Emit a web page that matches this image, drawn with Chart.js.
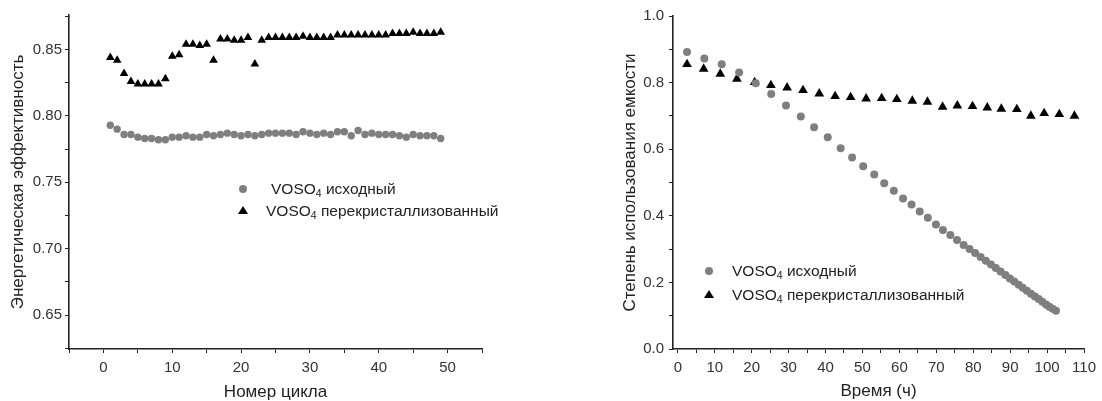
<!DOCTYPE html>
<html>
<head>
<meta charset="utf-8">
<script src="https://cdn.jsdelivr.net/npm/chart.js@4.4.1/dist/chart.umd.min.js"></script>
<style>
    body { margin: 0; background: #fff; font-family: "Liberation Sans", Arial, sans-serif; }
    #wrap { position: relative; width: 1102px; height: 401px; overflow: hidden; }
    .box { position: absolute; top: 0; height: 401px; }
    .legend { position: absolute; font-size: 15.5px; color: #222; white-space: nowrap; line-height: 20px; }
    .legend sub { font-size: 10.5px; vertical-align: -3px; line-height: 0; }
    .dot { position: absolute; width: 8px; height: 8px; border-radius: 50%; background: #7f7f7f; }
    .tri { position: absolute; width: 0; height: 0; border-left: 5px solid transparent; border-right: 5px solid transparent; border-bottom: 8px solid #000; }
</style>
</head>
<body>
<div id="wrap">
    <div class="box" style="left:0;width:520px"><canvas id="effChart"></canvas></div>
    <div class="box" style="left:600px;width:502px"><canvas id="capChart"></canvas></div>

    <!-- легенда левого графика -->
    <div class="dot" style="left:239px;top:185px"></div>
    <div class="legend" style="left:271px;top:179px">VOSO<sub>4</sub> исходный</div>
    <div class="tri" style="left:238px;top:206px"></div>
    <div class="legend" style="left:266px;top:201px">VOSO<sub>4</sub> перекристаллизованный</div>

    <!-- легенда правого графика -->
    <div class="dot" style="left:705px;top:267px"></div>
    <div class="legend" style="left:732px;top:261px">VOSO<sub>4</sub> исходный</div>
    <div class="tri" style="left:704px;top:290px"></div>
    <div class="legend" style="left:732px;top:285px">VOSO<sub>4</sub> перекристаллизованный</div>
</div>

<script>
// Левый график: энергетическая эффективность по циклам
const cycles = [1, 2, 3, 4, 5, 6, 7, 8, 9, 10, 11, 12, 13, 14, 15, 16, 17, 18, 19, 20,
    21, 22, 23, 24, 25, 26, 27, 28, 29, 30, 31, 32, 33, 34, 35, 36, 37, 38, 39, 40,
    41, 42, 43, 44, 45, 46, 47, 48, 49];
const effOriginal = [0.793, 0.790, 0.786, 0.786, 0.784, 0.783, 0.783, 0.782, 0.782, 0.784,
    0.784, 0.785, 0.784, 0.784, 0.786, 0.785, 0.786, 0.787, 0.786, 0.785,
    0.786, 0.785, 0.786, 0.787, 0.787, 0.787, 0.787, 0.786, 0.788, 0.787,
    0.786, 0.787, 0.786, 0.788, 0.788, 0.785, 0.789, 0.786, 0.787, 0.786,
    0.786, 0.786, 0.785, 0.784, 0.786, 0.785, 0.785, 0.785, 0.783];
const effRecryst = [0.844, 0.842, 0.832, 0.826, 0.824, 0.824, 0.824, 0.824, 0.828, 0.845,
    0.846, 0.854, 0.854, 0.853, 0.854, 0.842, 0.858, 0.858, 0.857, 0.857,
    0.859, 0.839, 0.857, 0.859, 0.859, 0.859, 0.859, 0.859, 0.860, 0.859,
    0.859, 0.859, 0.859, 0.861, 0.861, 0.861, 0.861, 0.861, 0.861, 0.861,
    0.861, 0.862, 0.862, 0.862, 0.863, 0.862, 0.862, 0.862, 0.863];

// Правый график: степень использования емкости во времени
const timeOriginal = [2.5, 7.2, 11.9, 16.6, 21.1, 25.3, 29.3, 33.3, 36.9, 40.6,
    44.1, 47.2, 50.2, 53.2, 55.9, 58.5, 61.0, 63.3, 65.5, 67.7,
    69.9, 71.8, 73.8, 75.6, 77.4, 79.0, 80.5, 82.0, 83.4, 84.8,
    86.1, 87.4, 88.7, 89.9, 91.1, 92.3, 93.4, 94.5, 95.6, 96.7,
    97.7, 98.7, 99.7, 100.6, 101.5, 102.4];
const capOriginal = [0.892, 0.872, 0.855, 0.830, 0.798, 0.766, 0.731, 0.698, 0.666, 0.636,
    0.603, 0.575, 0.549, 0.524, 0.498, 0.475, 0.452, 0.434, 0.413, 0.394,
    0.374, 0.357, 0.342, 0.327, 0.312, 0.300, 0.288, 0.276, 0.265, 0.254,
    0.243, 0.233, 0.222, 0.212, 0.203, 0.193, 0.184, 0.175, 0.166, 0.158,
    0.150, 0.142, 0.134, 0.127, 0.121, 0.115];
const timeRecryst = [2.5, 7.0, 11.5, 16.0, 20.8, 25.2, 29.6, 33.9, 38.3, 42.6,
    46.8, 51.0, 55.2, 59.3, 63.5, 67.6, 71.7, 75.7, 79.8, 83.8,
    87.6, 91.8, 95.6, 99.2, 103.3, 107.4];
const capRecryst = [0.855, 0.841, 0.826, 0.811, 0.801, 0.792, 0.785, 0.777, 0.767, 0.759,
    0.756, 0.752, 0.753, 0.750, 0.745, 0.742, 0.727, 0.731, 0.729, 0.725,
    0.721, 0.720, 0.700, 0.708, 0.705, 0.700];

const grayColor = '#7f7f7f';
const axisColor = '#222';
const textColor = '#333';

function toPoints(xs, ys) {
    return xs.map((x, i) => ({ x: x, y: ys[i] }));
}

// Общие настройки осей: только левая и нижняя ось, засечки наружу
function axisOptions(extra) {
    return Object.assign({
        type: 'linear',
        border: { display: true, color: axisColor, width: 1.6 },
        grid: { drawOnChartArea: false, drawTicks: true, tickLength: 4, color: axisColor, lineWidth: 1 },
        ticks: { color: textColor, font: { family: 'Liberation Sans', size: 15 }, autoSkip: false, includeBounds: false, maxRotation: 0 },
        title: { display: true, color: '#222', font: { family: 'Liberation Sans', size: 17, lineHeight: 1 } }
    }, extra);
}

function createChart(ctx, datasets, xOpts, yOpts, padding) {
    return new Chart(ctx.getContext('2d'), {
        type: 'scatter',
        data: { datasets: datasets },
        options: {
            responsive: true,
            maintainAspectRatio: false,
            animation: false,
            layout: { padding: padding },
            plugins: {
                legend: { display: false },
                tooltip: { enabled: false }
            },
            scales: { x: xOpts, y: yOpts }
        }
    });
}

const effX = axisOptions({
    min: -5, max: 55,
    afterFit: s => { s.height = 52; }
});
effX.ticks = Object.assign({}, effX.ticks, {
    stepSize: 5, padding: 6,
    callback: v => (Math.abs(v % 10) < 1e-6 ? String(v) : '')
});
effX.title = Object.assign({}, effX.title, { text: 'Номер цикла', padding: { top: 0, bottom: 0 } });

const effY = axisOptions({
    min: 0.6244, max: 0.876,
    afterFit: s => { s.width = 69; }
});
effY.ticks = Object.assign({}, effY.ticks, {
    stepSize: 0.025, padding: 3,
    callback: v => {
        const r = Math.round(v * 1000);
        return r % 50 === 0 ? (r / 1000).toFixed(2) : '';
    }
});
effY.title = Object.assign({}, effY.title, { text: 'Энергетическая эффективность', padding: { top: 10, bottom: 0 } });

createChart(document.getElementById('effChart'), [
    {
        label: 'VOSO4 исходный',
        data: toPoints(cycles, effOriginal),
        pointStyle: 'circle', pointRadius: 3.7,
        backgroundColor: grayColor, borderColor: grayColor, borderWidth: 0
    },
    {
        label: 'VOSO4 перекристаллизованный',
        data: toPoints(cycles, effRecryst),
        pointStyle: 'triangle', pointRadius: 5,
        backgroundColor: '#000', borderColor: '#000', borderWidth: 0
    }
], effX, effY, { left: 0, right: 38, top: 15, bottom: 0 });

const capX = axisOptions({
    min: -1.3, max: 110,
    afterFit: s => { s.height = 52; }
});
capX.ticks = Object.assign({}, capX.ticks, {
    stepSize: 5, padding: 6,
    callback: v => (Math.abs(v % 10) < 1e-6 ? String(v) : '')
});
capX.title = Object.assign({}, capX.title, { text: 'Время (ч)', padding: { top: 0, bottom: 1 } });

const capY = axisOptions({
    min: 0, max: 1.0,
    afterFit: s => { s.width = 73; }
});
capY.ticks = Object.assign({}, capY.ticks, {
    stepSize: 0.1, padding: 5,
    callback: v => {
        const r = Math.round(v * 10);
        return r % 2 === 0 ? (r / 10).toFixed(1) : '';
    }
});
capY.title = Object.assign({}, capY.title, { text: 'Степень использования емкости', padding: { top: 22, bottom: 0 } });

createChart(document.getElementById('capChart'), [
    {
        label: 'VOSO4 исходный',
        data: toPoints(timeOriginal, capOriginal),
        pointStyle: 'circle', pointRadius: 4,
        backgroundColor: grayColor, borderColor: grayColor, borderWidth: 0
    },
    {
        label: 'VOSO4 перекристаллизованный',
        data: toPoints(timeRecryst, capRecryst),
        pointStyle: 'triangle', pointRadius: 5.6,
        backgroundColor: '#000', borderColor: '#000', borderWidth: 0
    }
], capX, capY, { left: 0, right: 14, top: 16, bottom: 0 });
</script>
</body>
</html>
